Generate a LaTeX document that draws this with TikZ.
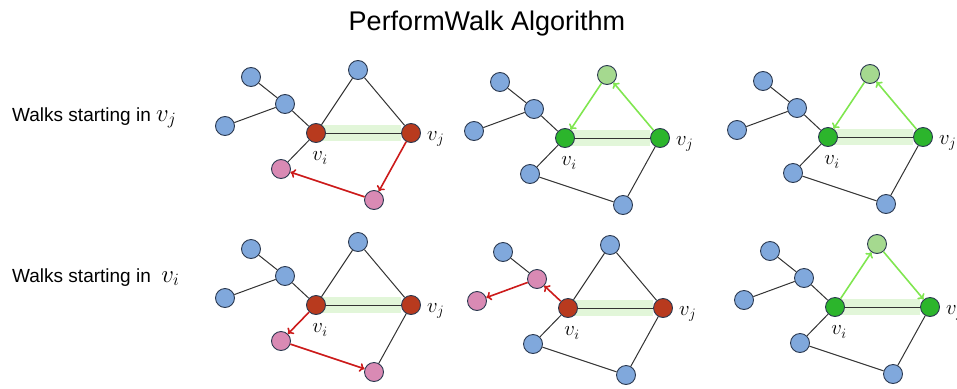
\documentclass[tikz,border=0pt]{standalone}
\usepackage{fontspec}
\setmainfont{Liberation Sans}
\usetikzlibrary{arrows.meta}
\pgfdeclarelayer{bg}
\pgfsetlayers{bg,main}
\definecolor{nblue}{HTML}{80A8DC}
\definecolor{nred}{HTML}{B83A1E}
\definecolor{npink}{HTML}{D98AB4}
\definecolor{ngreen}{HTML}{2CB52C}
\definecolor{nlgreen}{HTML}{A5D98F}
\definecolor{edgec}{HTML}{333333}
\definecolor{outl}{HTML}{2B3950}
\definecolor{bandc}{HTML}{E2F6D9}
\definecolor{warr}{HTML}{CC1A1A}
\definecolor{garr}{HTML}{80E650}
\tikzset{
  vtx/.style={circle, draw=outl, line width=0.9pt, minimum size=19pt, inner sep=0pt},
  bv/.style={vtx, fill=nblue},
  rv/.style={vtx, fill=nred},
  pv/.style={vtx, fill=npink},
  gv/.style={vtx, fill=ngreen},
  lgv/.style={vtx, fill=nlgreen},
  plain/.style={draw=edgec, line width=1pt},
  redarr/.style={draw=warr, line width=1.6pt, -{To[length=5pt,width=9pt]}},
  grnarr/.style={draw=garr, line width=1.6pt, -{To[length=5pt,width=9pt]}},
  lab/.style={font=\fontsize{22}{22}\selectfont, inner sep=0pt},
  rowlab/.style={anchor=base west, font=\fontsize{19}{19}\selectfont, inner sep=0pt}
}
\newcommand\pgraph[8]{%
  \node[#1] (vi) at (0,0) {};
  \node[#2] (vj) at (95,0) {};
  \node[#3] (tp) at (42,-63) {};
  \node[#4] (tl) at (-65,-56) {};
  \node[#5] (hub) at (-31,-29) {};
  \node[#6] (lf) at (-91,-7) {};
  \node[#7] (bl) at (-35,36) {};
  \node[#8] (bt) at (58,67) {};
  \node[lab] (li) at (4,25) {$v_i$};
  \node[lab, anchor=west] (lj) at (111,6) {$v_j$};
  \begin{pgfonlayer}{bg}
    \fill[bandc] ([yshift=-8pt]vi.center) rectangle ([yshift=8pt]vj.west);
  \end{pgfonlayer}
}
\newcommand\ed[3][plain]{\draw[#1] (#2) -- (#3);}
\begin{document}
\begin{tikzpicture}[x=1pt,y=-1pt]
\useasboundingbox (0,0) rectangle (957,388);
\node[font=\fontsize{27}{27}\selectfont, anchor=base, inner sep=0pt] (title) at (487,30) {PerformWalk Algorithm};
\node[rowlab] (r1) at (12,121) {Walks starting in {\fontsize{24}{24}\selectfont$v_j$}};
\node[rowlab] (r2) at (12,282) {Walks starting in\ \ {\fontsize{24}{24}\selectfont$v_i$}};

% panel 1
\begin{scope}[shift={(316,133)}, name prefix=p1-]
  \pgraph{rv}{rv}{bv}{bv}{bv}{bv}{pv}{pv}
  \ed{tl}{hub}\ed{hub}{lf}\ed{hub}{vi}\ed{vi}{tp}\ed{tp}{vj}\ed{vi}{vj}\ed{vi}{bl}
  \ed[redarr]{vj}{bt}\ed[redarr]{bt}{bl}
\end{scope}
% panel 2
\begin{scope}[shift={(565,138)}, name prefix=p2-]
  \pgraph{gv}{gv}{lgv}{bv}{bv}{bv}{bv}{bv}
  \ed{tl}{hub}\ed{hub}{lf}\ed{hub}{vi}\ed{vi}{vj}\ed{vi}{bl}\ed{bl}{bt}\ed{bt}{vj}
  \ed[grnarr]{vj}{tp}\ed[grnarr]{tp}{vi}
\end{scope}
% panel 3
\begin{scope}[shift={(828,137)}, name prefix=p3-]
  \pgraph{gv}{gv}{lgv}{bv}{bv}{bv}{bv}{bv}
  \ed{tl}{hub}\ed{hub}{lf}\ed{hub}{vi}\ed{vi}{vj}\ed{vi}{bl}\ed{bl}{bt}\ed{bt}{vj}
  \ed[grnarr]{vj}{tp}\ed[grnarr]{tp}{vi}
\end{scope}
% panel 4
\begin{scope}[shift={(316,305)}, name prefix=p4-]
  \pgraph{rv}{rv}{bv}{bv}{bv}{bv}{pv}{pv}
  \ed{tl}{hub}\ed{hub}{lf}\ed{hub}{vi}\ed{vi}{tp}\ed{tp}{vj}\ed{vi}{vj}\ed{bt}{vj}
  \ed[redarr]{vi}{bl}\ed[redarr]{bl}{bt}
\end{scope}
% panel 5
\begin{scope}[shift={(568,308)}, name prefix=p5-]
  \pgraph{rv}{rv}{bv}{bv}{pv}{pv}{bv}{bv}
  \ed{tl}{hub}\ed{vi}{tp}\ed{tp}{vj}\ed{vi}{vj}\ed{vi}{bl}\ed{bl}{bt}\ed{bt}{vj}
  \ed[redarr]{vi}{hub}\ed[redarr]{hub}{lf}
\end{scope}
% panel 6
\begin{scope}[shift={(835,307)}, name prefix=p6-]
  \pgraph{gv}{gv}{lgv}{bv}{bv}{bv}{bv}{bv}
  \ed{tl}{hub}\ed{hub}{lf}\ed{hub}{vi}\ed{vi}{vj}\ed{vi}{bl}\ed{bl}{bt}\ed{bt}{vj}
  \ed[grnarr]{vi}{tp}\ed[grnarr]{tp}{vj}
\end{scope}
\end{tikzpicture}
\end{document}
